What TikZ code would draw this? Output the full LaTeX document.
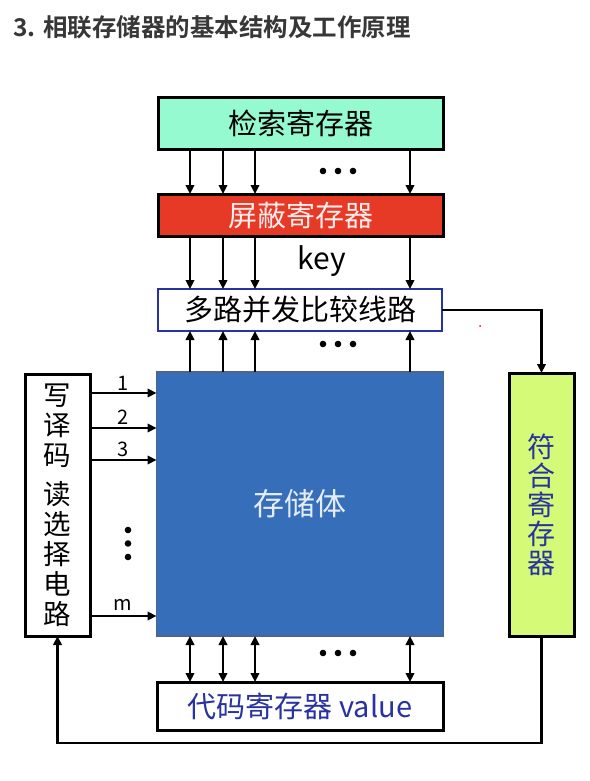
\documentclass[tikz,border=0pt]{standalone}
\usepackage{fontspec}
\setmainfont{Noto Sans CJK SC}[BoldFont={Noto Sans CJK SC Bold}]
\usetikzlibrary{arrows.meta}
\definecolor{mint}{RGB}{150,250,208}
\definecolor{maskred}{RGB}{230,58,38}
\definecolor{storeblue}{RGB}{54,110,185}
\definecolor{storeedge}{RGB}{80,100,135}
\definecolor{matchgreen}{RGB}{212,250,120}
\definecolor{txtblue}{RGB}{40,50,160}
\definecolor{titlegray}{RGB}{55,55,55}
\definecolor{pinkwhite}{RGB}{255,236,236}
\definecolor{lightblue}{RGB}{228,236,248}
\begin{document}
\begin{tikzpicture}[x=1pt,y=-1pt,
  box/.style={draw=black, line width=3pt, inner sep=0pt, outer sep=0pt},
  big/.style={font=\fontsize{29}{29}\selectfont},
  arr/.style={line width=2.3pt, -{Triangle[length=9pt,width=8.5pt]}},
  darr/.style={line width=2.3pt, {Triangle[length=9pt,width=8.5pt]}-{Triangle[length=9pt,width=8.5pt]}},
  numlbl/.style={inner sep=0pt, font=\fontsize{20}{20}\selectfont},
  dot/.style={fill=black}
]
\path[use as bounding box] (0,0) rectangle (589,781);

% title
\node[anchor=west, inner sep=0pt, text=titlegray, font=\bfseries\fontsize{24.5}{24.5}\selectfont] (title) at (13,27) {3. 相联存储器的基本结构及工作原理};

% boxes
\node[box, big, fill=mint, minimum width=285pt, minimum height=51pt] (search) at (300.5,123.5) {检索寄存器};
\node[box, big, fill=maskred, text=pinkwhite, minimum width=285pt, minimum height=42pt] (mask) at (300.5,215) {屏蔽寄存器};
\node[box, big, draw=txtblue, line width=2.6pt, fill=white, minimum width=284pt, minimum height=42pt] (cmp) at (300,310) {多路并发比较线路};
\node[box, draw=storeedge, line width=1.8pt, fill=storeblue, text=lightblue, font=\fontsize{31}{31}\selectfont, minimum width=287pt, minimum height=264pt] (store) at (300,504) {存储体};
\node[box, fill=white, minimum width=65pt, minimum height=262pt, align=center, font=\fontsize{27.5}{30}\selectfont] (left) at (57.5,505) {写\\译\\码\\[9pt]读\\选\\择\\电\\路};
\node[box, fill=matchgreen, text=txtblue, minimum width=65pt, minimum height=263pt, align=center, font=\fontsize{28}{29}\selectfont] (match) at (541.5,504.5) {符\\合\\寄\\存\\器};
\node[box, big, fill=white, text=txtblue, minimum width=286pt, minimum height=48pt] (code) at (300,706) {代码寄存器 value};

% key label
\node[inner sep=0pt, font=\fontsize{30}{30}\selectfont] (key) at (322,261) {key};

% vertical arrows
\foreach \xx in {190,223,255,410}{
  \draw[arr] (search.south -| \xx,0) -- (mask.north -| \xx,0);
  \draw[arr] (mask.south -| \xx,0) -- (cmp.north -| \xx,0);
  \draw[arr] (store.north -| \xx,0) -- (cmp.south -| \xx,0);
  \draw[darr] (store.south -| \xx,0) -- (code.north -| \xx,0);
}

% dots
\foreach \yy in {171,344,653}{
  \foreach \xx in {323,338,353}{
    \fill[dot] (\xx,\yy) circle (3.3pt);
  }
}
\foreach \yy in {530,543.5,557}{
  \fill[dot] (128,\yy) circle (3.3pt);
}

% left arrows with numbers
\foreach \yy/\lbl/\ly in {393/1/383,428/2/417,460/3/449,616/m/605}{
  \draw[arr] (left.east |- 0,\yy) -- (store.west |- 0,\yy);
  \node[numlbl] at (123,\ly) {\lbl};
}

% feedback lines
\coordinate (fb) at (0,743);
\draw[arr] (cmp.east) -- (cmp.east -| match.north) -- (match.north);
\draw[arr] (match.south) -- (match.south |- fb) -- (left.south |- fb) -- (left.south);

% small red mark
\fill[red] (480,326) circle (1pt);
\end{tikzpicture}
\end{document}
